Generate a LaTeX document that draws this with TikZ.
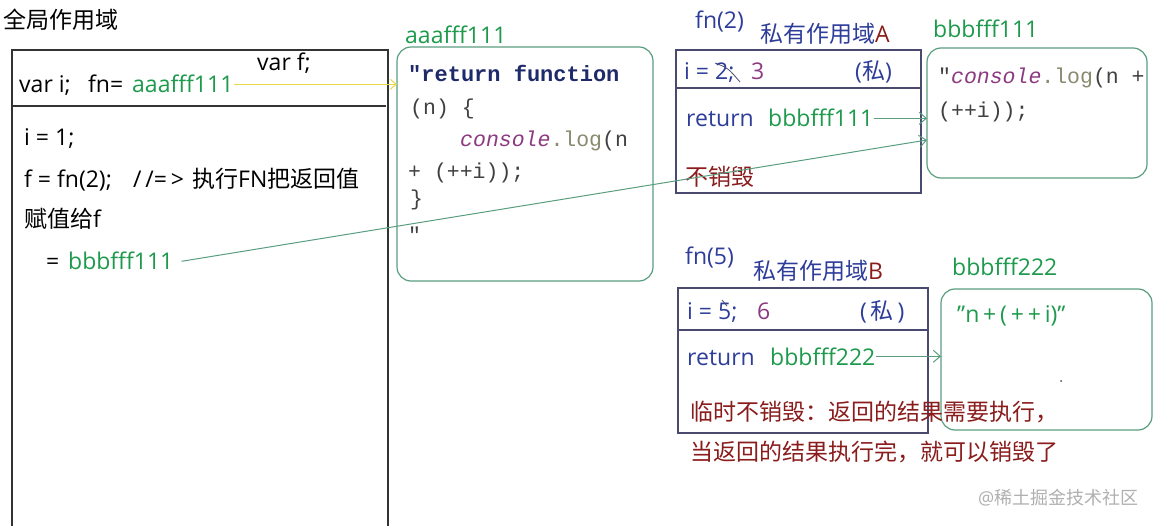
\documentclass[tikz,border=0pt]{standalone}
\usepackage{fontspec}
\setmainfont{Open Sans}
\newfontfamily\cjk{Noto Sans CJK SC}
\newfontfamily\codefont{Liberation Mono}
\usetikzlibrary{arrows.meta}
\definecolor{tblue}{HTML}{2E3D9A}
\definecolor{tgreen}{HTML}{1E9A4C}
\definecolor{bgreen}{HTML}{5A9E80}
\definecolor{tred}{HTML}{8A1C1C}
\definecolor{tpurple}{HTML}{8C3A80}
\definecolor{tgrey}{HTML}{8A8A70}
\definecolor{bnavy}{HTML}{4A4A70}
\definecolor{codenavy}{HTML}{1E2A6A}
\definecolor{wmark}{HTML}{B0B0B0}
\definecolor{yline}{HTML}{E8D84A}
\begin{document}
\begin{tikzpicture}[x=1pt,y=-1pt,
  txt/.style={anchor=base west, inner sep=0, font=\fontsize{23}{23}\selectfont},
  code/.style={anchor=base west, inner sep=0, font=\codefont\fontsize{21.5}{21.5}\selectfont},
  rbox/.style={draw=bgreen, line width=1.2pt, rounded corners=14pt, anchor=north west, inner sep=0, outer sep=0},
  sbox/.style={draw=bnavy, line width=1.2pt, anchor=north west, inner sep=0, outer sep=0},
  conn/.style={draw=bgreen, line width=1pt, -{Straight Barb[length=7pt,width=12pt]}}]
\useasboundingbox (0,0) rectangle (1156,526);
\fill[white] (0,0) rectangle (1156,526);

% ---------- global scope ----------
\node[txt] (gtitle) at (3,29) {\cjk 全局作用域};
\draw[draw=black!80, line width=1.2pt] (12,540) -- (12,50) -- (388,50) -- (388,540);
\draw[draw=black!80, line width=1.2pt] (12,106) -- (386,106);
\node[txt] (varf) at (257,71) {var f;};
\node[txt] (vari) at (19,93) {var i;};
\node[txt] (fneq) at (88,93) {fn=};
\node[txt, text=tgreen] (fnval) at (132,93) {aaafff111};
\node[txt] (l1) at (24,146) {i = 1;};
\node[txt] (l2) at (24,188) {f = fn(2);};
\node[txt] (l2b) at (133,188) {/\,/=\,>};
\node[txt] (l2c) at (192,188) {{\cjk 执行}FN{\cjk 把返回值}};
\node[txt] (l3) at (24,228) {{\cjk 赋值给}f};
\node[txt] (l4) at (46,270) {=};
\node[txt, text=tgreen] (fval) at (68,270) {bbbfff111};

% ---------- aaafff111 heap ----------
\node[txt, text=tgreen] (aaalab) at (405,44) {aaafff111};
\node[rbox, minimum width=256pt, minimum height=234pt] (aaabox) at (397,47) {};
\node[code, text=codenavy, font=\codefont\bfseries\fontsize{22}{22}\selectfont] (c1) at (408,82) {"return function};
\node[code, text=black!75] (c2) at (410,115) {(n) \{};
\node[code] (c3) at (460,147) {\textcolor{tpurple}{\itshape console}\textcolor{tgrey}{.log}\textcolor{black!75}{(n}};
\node[code, text=black!75] (c4) at (408,179) {+ (++i));};
\node[code, text=black!75] (c5) at (410,206) {\}};
\node[code, text=black!75] (c6) at (408,243) {"};

% ---------- private scope A ----------
\node[txt, text=tblue] (fn2) at (695,29) {fn(2)};
\node[txt, text=tblue] (scA) at (760,43) {{\cjk 私有作用域}\textcolor{tred}{A}};
\node[sbox, minimum width=245pt, minimum height=143pt] (boxA) at (676,50) {};
\draw[draw=bnavy, line width=1.2pt] (676,88) -- (921,88);
\node[txt, text=tblue] (iA) at (684,80) {i = 2;};
\node[txt, text=tpurple] (iA3) at (751,80) {3};
\draw[draw=bnavy, line width=0.8pt] (715,63) .. controls (728,68) .. (740,82);
\node[txt, text=tblue] (siA) at (855,80) {({\cjk 私})};
\node[txt, text=tblue] (retA) at (686,127) {return};
\node[txt, text=tgreen] (retAval) at (768,127) {bbbfff111};
\node[txt, text=tred] (keepA) at (685,186) {\cjk 不销毁};

% ---------- bbbfff111 heap ----------
\node[txt, text=tgreen] (bbblab) at (933,38) {bbbfff111};
\node[rbox, minimum width=220pt, minimum height=130pt] (bbbbox) at (927,48) {};
\node[code] (d1) at (938,84) {\textcolor{black!75}{"}\textcolor{tpurple}{\itshape console}\textcolor{tgrey}{.log}\textcolor{black!75}{(n +}};
\node[code, text=black!75] (d2) at (938,118) {(++i));};

% ---------- private scope B ----------
\node[txt, text=tblue] (fn5) at (685,265) {fn(5)};
\node[txt, text=tblue] (scB) at (753,280) {{\cjk 私有作用域}\textcolor{tred}{B}};
\node[sbox, minimum width=250pt, minimum height=145pt] (boxB) at (678,288) {};
\draw[draw=bnavy, line width=1.2pt] (678,330) -- (928,330);
\node[txt, text=tblue] (iB) at (687,320) {i = 5;};
\draw[draw=bnavy, line width=0.8pt] (722,300) -- (727,306);
\node[txt, text=tpurple] (iB6) at (757,320) {6};
\node[txt, text=tblue] (siB) at (860,320) {(\,{\cjk 私}\,)};
\node[txt, text=tblue] (retB) at (687,365) {return};
\node[txt, text=tgreen] (retBval) at (770,365) {bbbfff222};

% ---------- bbbfff222 heap ----------
\node[txt, text=tgreen] (b2lab) at (952,276) {bbbfff222};
\node[rbox, minimum width=211pt, minimum height=141pt] (b2box) at (941,289) {};
\node[txt, text=tgreen] (e1) at (957,323) {\symbol{34}n\,+\,(\,+\,+\,i)\symbol{34}};
\fill[black!70] (1061,381) circle (1pt);

% ---------- notes ----------
\node[txt, text=tred] (n1) at (690,420) {\cjk 临时不销毁：返回的结果需要执行，};
\node[txt, text=tred] (n2) at (690,460) {\cjk 当返回的结果执行完，就可以销毁了};
\node[anchor=base west, inner sep=0, text=wmark, font=\fontsize{18}{18}\selectfont] (wm) at (978,504) {@{\cjk 稀土掘金技术社区}};

% ---------- connectors ----------
\draw[draw=yline, line width=1pt, -{Straight Barb[length=6pt,width=10pt]}] (fnval.east) -- (aaabox.west |- fnval.east);
\draw[conn] (retAval.east) -- (bbbbox.west |- retAval.east);
\draw[conn] (retBval.east) -- (b2box.west |- retBval.east);
\draw[conn] ([xshift=8pt]fval.east) -- ([yshift=-92pt]bbbbox.north west);
\end{tikzpicture}
\end{document}
